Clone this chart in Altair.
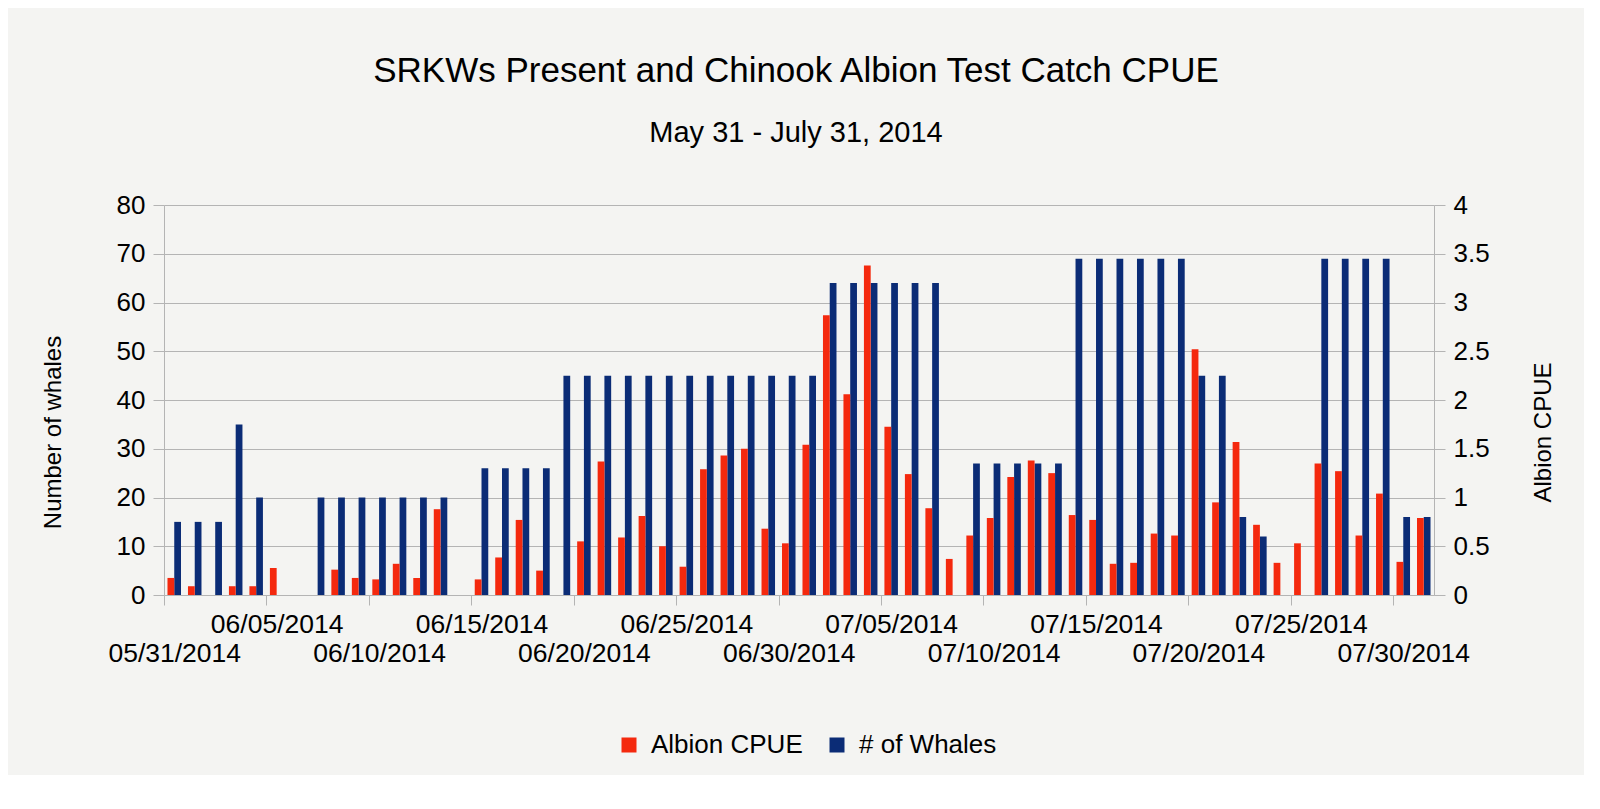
import altair as alt
import pandas as pd

# ---- data ----
start_date = "2014-05-31"
end_date = "2014-07-31"
series_names = ["Albion CPUE", "# of Whales"]

# Albion CPUE per day (right axis); None = no bar
cpue = [0.175, 0.09, None, 0.09, 0.09, 0.277, None, None, 0.26, 0.175,
        0.16, 0.32, 0.175, 0.88, None, 0.16, 0.385, 0.77, 0.25, None,
        0.55, 1.37, 0.59, 0.81, 0.50, 0.29, 1.29, 1.43, 1.50, 0.68,
        0.53, 1.54, 2.87, 2.06, 3.38, 1.725, 1.24, 0.89, 0.37, 0.61,
        0.79, 1.21, 1.38, 1.25, 0.82, 0.77, 0.32, 0.33, 0.63, 0.61,
        2.52, 0.95, 1.57, 0.72, 0.33, 0.53, 1.35, 1.27, 0.61, 1.04,
        0.34, 0.79]

# Number of whales per day (left axis); None = no bar
whales = [15, 15, 15, 35, 20, None, None, 20, 20, 20,
          20, 20, 20, 20, None, 26, 26, 26, 26, 45,
          45, 45, 45, 45, 45, 45, 45, 45, 45, 45,
          45, 45, 64, 64, 64, 64, 64, 64, None, 27,
          27, 27, 27, 27, 69, 69, 69, 69, 69, 69,
          45, 45, 16, 12, None, None, 69, 69, 69, 69,
          16, 16]

y_left_ticks = [0, 10, 20, 30, 40, 50, 60, 70, 80]
y_right_ticks = [0, 0.5, 1, 1.5, 2, 2.5, 3, 3.5, 4]
x_tick_days = list(range(0, 61, 5))

# ---- build table ----
days = pd.date_range(start_date, end_date, freq="D")
n_days = len(days)
BAR = 0.33
rows = []
for i, d in enumerate(days):
    if cpue[i] is not None:
        rows.append({"day": i, "x0": i + 0.5 - BAR, "x1": i + 0.5,
                     "series": series_names[0], "value": cpue[i],
                     "date": d.strftime("%m/%d/%Y")})
    if whales[i] is not None:
        rows.append({"day": i, "x0": i + 0.5, "x1": i + 0.5 + BAR,
                     "series": series_names[1], "value": whales[i],
                     "date": d.strftime("%m/%d/%Y")})
df = pd.DataFrame(rows)

RED = "#f4290e"
BLUE = "#0b2c76"
GRID = "#b4b4b4"
FONT = "Liberation Sans"
W, H = 1270, 390

color = alt.Color(
    "series:N",
    scale=alt.Scale(domain=series_names, range=[RED, BLUE]),
    legend=alt.Legend(
        title=None, orient="none", direction="horizontal",
        legendX=452, legendY=527, symbolType="square", symbolSize=225,
        symbolStrokeWidth=0, labelFontSize=26, labelFont=FONT,
        labelColor="#000000", labelOffset=9, columnPadding=21,
        padding=0, labelLimit=400,
    ),
)

label_expr = (
    "datum.value % 10 == 0 ? "
    "[' ', timeFormat(datetime(2014, 4, 31 + datum.value), '%m/%d/%Y')] : "
    "[timeFormat(datetime(2014, 4, 31 + datum.value), '%m/%d/%Y')]"
)

x_axis = alt.Axis(
    title=None, values=x_tick_days, labelExpr=label_expr,
    labelOffset=W / n_days / 2, labelFlush=False, labelOverlap=False,
    labelBound=False, labelFontSize=26.5, labelFont=FONT,
    labelColor="#000000", labelLineHeight=29, labelPadding=6,
    tickSize=10, tickColor=GRID, domainColor=GRID, grid=False,
    labelAlign="center", labelBaseline="top",
)
x_scale = alt.Scale(domain=[0, n_days], nice=False, zero=False)

whale_layer = alt.Chart(df).transform_filter(
    alt.datum.series == series_names[1]
).mark_bar().encode(
    x=alt.X("x0:Q", scale=x_scale, axis=x_axis),
    x2="x1:Q",
    y=alt.Y(
        "value:Q",
        scale=alt.Scale(domain=[0, 80], nice=False),
        axis=alt.Axis(
            orient="left", title="Number of whales", values=y_left_ticks,
            grid=True, gridColor=GRID, tickColor=GRID, domainColor=GRID,
            tickSize=11, labelPadding=8, labelFontSize=26, labelFont=FONT,
            labelColor="#000000", titleFont=FONT, titleFontSize=24,
            titleFontWeight="normal", titleColor="#000000",
            titleAngle=270, titleAlign="center", titleBaseline="middle",
            titleX=-111, titleY=227,
        ),
    ),
    y2=alt.datum(0),
    color=color,
)

cpue_layer = alt.Chart(df).transform_filter(
    alt.datum.series == series_names[0]
).mark_bar().encode(
    x=alt.X("x0:Q", scale=x_scale, axis=x_axis),
    x2="x1:Q",
    y=alt.Y(
        "value:Q",
        scale=alt.Scale(domain=[0, 4], nice=False),
        axis=alt.Axis(
            orient="right", title="Albion CPUE", values=y_right_ticks,
            format="~g", grid=False, tickColor=GRID, domainColor=GRID,
            tickSize=11, labelPadding=8, labelFontSize=26, labelFont=FONT,
            labelColor="#000000", titleFont=FONT, titleFontSize=24,
            titleFontWeight="normal", titleColor="#000000",
            titleAngle=270, titleAlign="center", titleBaseline="middle",
            titleX=109, titleY=227,
        ),
    ),
    y2=alt.datum(0),
    color=color,
)

chart = alt.layer(whale_layer, cpue_layer).resolve_scale(
    y="independent"
).properties(
    width=W,
    height=H,
    title=alt.TitleParams(
        text="SRKWs Present and Chinook Albion Test Catch CPUE",
        subtitle="May 31 - July 31, 2014",
        font=FONT, fontSize=35, fontWeight="normal", color="#000000",
        subtitleFont=FONT, subtitleFontSize=29, subtitleColor="#000000",
        anchor="middle", frame="group", offset=44, subtitlePadding=30,
        dx=-3,
    ),
    autosize=alt.AutoSizeParams(type="none"),
    padding={"left": 156, "top": 197, "right": 150, "bottom": 180},
).configure(
    background="#f4f4f2",
).configure_view(
    stroke=None,
)

chart.save("out.html", embed_options={"renderer": "svg", "actions": False})
